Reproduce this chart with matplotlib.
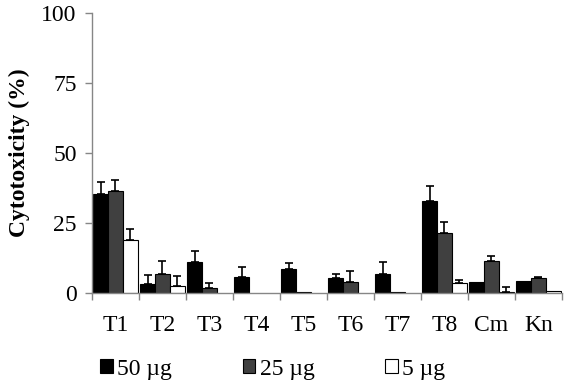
import matplotlib
matplotlib.use("Agg")
import matplotlib.pyplot as plt
import numpy as np
from matplotlib.patches import Patch

categories = ["T1", "T2", "T3", "T4", "T5", "T6", "T7", "T8", "Cm", "Kn"]
series_labels = ["50 µg", "25 µg", "5 µg"]
v50 = [35.5, 3.1, 11.1, 5.7, 8.5, 5.5, 6.9, 32.7, 3.9, 4.2]
e50 = [4.1, 3.2, 3.9, 3.6, 2.2, 1.2, 4.0, 5.4, 0.0, 0.0]
v25 = [36.3, 6.7, 1.9, 0.0, 0.3, 3.9, 0.3, 21.6, 11.3, 5.5]
e25 = [4.2, 4.6, 1.7, 0.0, 0.0, 3.8, 0.0, 3.8, 1.8, 0.2]
v5 = [18.8, 2.4, 0.0, 0.0, 0.0, 0.0, 0.0, 3.6, 0.4, 0.6]
e5 = [4.2, 3.6, 0.0, 0.0, 0.0, 0.0, 0.0, 0.9, 1.7, 0.0]
yticks = [0, 25, 50, 75, 100]

plt.rcParams['font.family'] = ['Liberation Serif', 'DejaVu Serif']
FS = 17

fig = plt.figure(figsize=(5.67, 3.86), dpi=100)
ax = fig.add_axes([0.162, 0.241, 0.829, 0.725])

x = np.arange(len(categories))
w = 0.315
fills = ["#000000", "#404040", "#ffffff"]
vals = [v50, v25, v5]
errs = [e50, e25, e5]
for i, (v, e, c) in enumerate(zip(vals, errs, fills)):
    pos = x + (i - 1) * w
    v = np.array(v)
    e = np.array(e)
    nz = v > 0
    ax.bar(pos[nz], v[nz], width=w, color=c, edgecolor="black", linewidth=0.8, zorder=2)
    em = e > 0
    ax.errorbar(pos[em], v[em], yerr=[np.zeros(em.sum()), e[em]], fmt="none", ecolor="black",
                elinewidth=1.2, capsize=2.6, capthick=1.2, zorder=3)

ax.set_xlim(-0.5, len(categories) - 0.5)
ax.set_ylim(0, 100)
ax.set_yticks(yticks)
ax.set_yticklabels([str(t) for t in yticks], fontsize=FS)
ax.set_xticks(x)
ax.set_xticklabels(categories, fontsize=FS)
ax.tick_params(axis="x", length=0, pad=16)
ax.set_xticks(np.arange(-0.5, len(categories)), minor=True)
ax.tick_params(axis="x", which="minor", length=5, color="#868686", width=1)
ax.tick_params(axis="y", length=5, color="#868686", width=1, pad=6)
for s in ["top", "right"]:
    ax.spines[s].set_visible(False)
for s in ["left", "bottom"]:
    ax.spines[s].set_color("#868686")
    ax.spines[s].set_linewidth(1)
ax.set_ylabel("Cytotoxicity (%)", fontsize=FS, fontweight="bold", labelpad=8)

handles = [Patch(facecolor=c, edgecolor="black", linewidth=0.8) for c in fills]
fig.legend(handles, series_labels, loc="center left", bbox_to_anchor=(0.176, 0.044),
           ncol=3, frameon=False, fontsize=FS, handlelength=0.55, handleheight=0.55,
           handletextpad=0.17, columnspacing=3.0, borderpad=0, borderaxespad=0)

fig.savefig("out.png", dpi=100)
